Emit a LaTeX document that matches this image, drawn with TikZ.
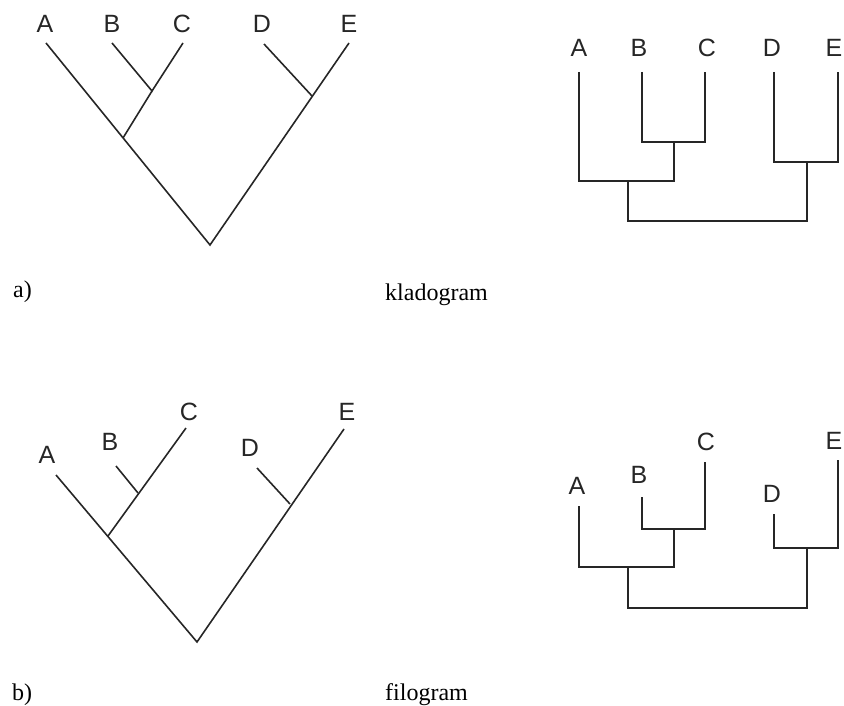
\documentclass[tikz,border=0pt]{standalone}
\usepackage{fontspec}
\setmainfont{Liberation Serif}
\setsansfont{Liberation Sans}
\usepackage{tikz}
\tikzset{
	branch/.style={line width=1.6pt, draw=black!85, line join=miter},
	taxon/.style={font=\sffamily\fontsize{25}{25}\selectfont, text=black!85, anchor=base, inner sep=0pt},
	caption/.style={font=\fontsize{24}{24}\selectfont, anchor=base west, inner sep=0pt}
}

\begin{document}
\begin{tikzpicture}[x=1pt, y=-1pt]
			%%%%% START %%%%%
			\useasboundingbox (0, 0) rectangle (844, 706);
			
			% a) kladogram, slanted
			\coordinate (tlA) at (46, 43);
			\coordinate (tlB) at (112, 43);
			\coordinate (tlC) at (183, 43);
			\coordinate (tlD) at (264, 44);
			\coordinate (tlE) at (349, 43);
			\coordinate (tlBC) at (152, 91);
			\coordinate (tlABC) at (123, 138);
			\coordinate (tlDE) at (312, 96);
			\coordinate (tlroot) at (210, 245);
			\node[taxon] (tllblA) at (45, 33) {A};
			\node[taxon] (tllblB) at (112, 33) {B};
			\node[taxon] (tllblC) at (182, 33) {C};
			\node[taxon] (tllblD) at (262, 33) {D};
			\node[taxon] (tllblE) at (349, 33) {E};
			\draw[branch] (tlA) -- (tlroot) -- (tlE);
			\draw[branch] (tlB) -- (tlBC) -- (tlC);
			\draw[branch] (tlBC) -- (tlABC);
			\draw[branch] (tlD) -- (tlDE);
			
			% a) kladogram, rectangular
			\coordinate (trA) at (579, 72);
			\coordinate (trB) at (642, 72);
			\coordinate (trC) at (705, 72);
			\coordinate (trD) at (774, 72);
			\coordinate (trE) at (838, 72);
			\coordinate (trBC) at (674, 142);
			\coordinate (trABC) at (628, 181);
			\coordinate (trDE) at (807, 162);
			\coordinate (trroot) at (717, 221);
			\node[taxon] (trlblA) at (579, 57) {A};
			\node[taxon] (trlblB) at (639, 57) {B};
			\node[taxon] (trlblC) at (707, 57) {C};
			\node[taxon] (trlblD) at (772, 57) {D};
			\node[taxon] (trlblE) at (834, 57) {E};
			\draw[branch] (trB) |- (trBC) -| (trC);
			\draw[branch] (trA) |- (trABC) -| (trBC);
			\draw[branch] (trD) |- (trDE) -| (trE);
			\draw[branch] (trABC) |- (trroot) -| (trDE);
			
			\node[caption] (capa) at (13, 297) {a)};
			\node[caption] (capklad) at (385, 300) {kladogram};
			
			% b) filogram, slanted
			\coordinate (blA) at (56, 475);
			\coordinate (blB) at (116, 466);
			\coordinate (blC) at (186, 428);
			\coordinate (blD) at (257, 468);
			\coordinate (blE) at (344, 429);
			\coordinate (blBC) at (138, 493);
			\coordinate (blABC) at (108, 536);
			\coordinate (blDE) at (290, 504);
			\coordinate (blroot) at (197, 642);
			\node[taxon] (bllblA) at (47, 463) {A};
			\node[taxon] (bllblB) at (110, 450) {B};
			\node[taxon] (bllblC) at (189, 420) {C};
			\node[taxon] (bllblD) at (250, 456) {D};
			\node[taxon] (bllblE) at (347, 420) {E};
			\draw[branch] (blA) -- (blroot) -- (blE);
			\draw[branch] (blB) -- (blBC);
			\draw[branch] (blC) -- (blABC);
			\draw[branch] (blD) -- (blDE);
			
			% b) filogram, rectangular
			\coordinate (brA) at (579, 506);
			\coordinate (brB) at (642, 497);
			\coordinate (brC) at (705, 462);
			\coordinate (brD) at (774, 514);
			\coordinate (brE) at (838, 460);
			\coordinate (brBC) at (674, 529);
			\coordinate (brABC) at (628, 567);
			\coordinate (brDE) at (807, 548);
			\coordinate (brroot) at (717, 608);
			\node[taxon] (brlblA) at (577, 494) {A};
			\node[taxon] (brlblB) at (639, 483) {B};
			\node[taxon] (brlblC) at (706, 450) {C};
			\node[taxon] (brlblD) at (772, 502) {D};
			\node[taxon] (brlblE) at (834, 449) {E};
			\draw[branch] (brB) |- (brBC) -| (brC);
			\draw[branch] (brA) |- (brABC) -| (brBC);
			\draw[branch] (brD) |- (brDE) -| (brE);
			\draw[branch] (brABC) |- (brroot) -| (brDE);
			
			\node[caption] (capb) at (12, 700) {b)};
			\node[caption] (capfilo) at (385, 700) {filogram};
			%%%%% END %%%%%
\end{tikzpicture}
\end{document}
